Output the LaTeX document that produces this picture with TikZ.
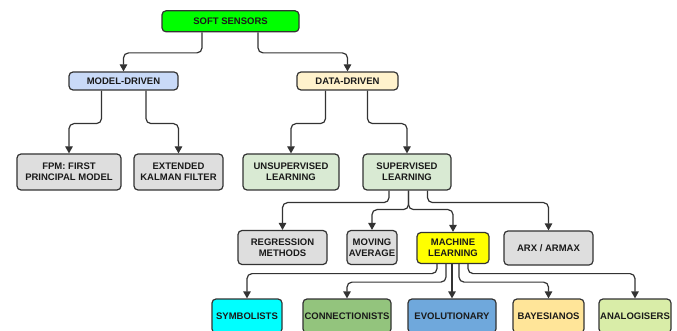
\documentclass[tikz,border=0pt]{standalone}
\usepackage{fontspec}
\setmainfont{Liberation Sans}
\usetikzlibrary{arrows.meta}
\definecolor{cSoft}{HTML}{00FF00}
\definecolor{cModel}{HTML}{C9DAF8}
\definecolor{cData}{HTML}{FFF2CC}
\definecolor{cGray}{HTML}{DEDEDE}
\definecolor{cLgreen}{HTML}{D9EAD3}
\definecolor{cYellow}{HTML}{FFFF00}
\definecolor{cCyan}{HTML}{00FFFF}
\definecolor{cConn}{HTML}{93C47D}
\definecolor{cEvo}{HTML}{6FA8DC}
\definecolor{cBay}{HTML}{FFE599}
\definecolor{cAna}{HTML}{D9EDA8}
\definecolor{cLine}{HTML}{333333}
\definecolor{cText}{HTML}{1A1A1A}
\tikzset{
  box/.style={draw=cLine, line width=1.2pt, rounded corners=4pt, inner sep=0pt,
    align=center, text=cText,
    font=\fontsize{9.5}{11}\selectfont\bfseries},
  conn/.style={draw=cLine, line width=1.2pt, rounded corners=5pt,
    -{Triangle[width=7.5pt,length=7pt]}}
}
\begin{document}
\begin{tikzpicture}[x=1pt,y=-1pt]
\useasboundingbox (0,0) rectangle (677,331);
\node[box, fill=cSoft, minimum width=137pt, minimum height=21pt] (soft) at (230.5,21.3) {SOFT SENSORS};
\node[box, fill=cModel, minimum width=109pt, minimum height=18pt] (md) at (123.5,81) {MODEL-DRIVEN};
\node[box, fill=cData, minimum width=101pt, minimum height=18pt] (dd) at (347.5,81) {DATA-DRIVEN};
\node[box, fill=cGray, minimum width=104pt, minimum height=36pt] (fpm) at (69,172) {FPM: FIRST\\PRINCIPAL MODEL};
\node[box, fill=cGray, minimum width=89pt, minimum height=36pt] (ekf) at (178.5,172) {EXTENDED\\KALMAN FILTER};
\node[box, fill=cLgreen, minimum width=96pt, minimum height=36pt] (unsup) at (291,172) {UNSUPERVISED\\LEARNING};
\node[box, fill=cLgreen, minimum width=88pt, minimum height=36pt] (sup) at (407,172) {SUPERVISED\\LEARNING};
\node[box, fill=cGray, minimum width=89pt, minimum height=34pt] (reg) at (282.5,247.5) {REGRESSION\\METHODS};
\node[box, fill=cGray, minimum width=50pt, minimum height=34pt] (mov) at (372,247.5) {MOVING\\AVERAGE};
\node[box, fill=cYellow, minimum width=72pt, minimum height=31pt] (ml) at (453,248) {MACHINE\\LEARNING};
\node[box, fill=cGray, minimum width=89pt, minimum height=34pt] (arx) at (548.5,248) {ARX / ARMAX};
\node[box, fill=cCyan, minimum width=70pt, minimum height=34pt] (sym) at (247,316) {SYMBOLISTS};
\node[box, fill=cConn, minimum width=88pt, minimum height=34pt] (con) at (347,316) {CONNECTIONISTS};
\node[box, fill=cEvo, minimum width=88pt, minimum height=34pt] (evo) at (452,316) {EVOLUTIONARY};
\node[box, fill=cBay, minimum width=71pt, minimum height=34pt] (bay) at (548.5,316) {BAYESIANOS};
\node[box, fill=cAna, minimum width=72pt, minimum height=34pt] (ana) at (635,316) {ANALOGISERS};
% connectors
\draw[conn] ([xshift=-28.5pt]soft.south) -- ++(0,20.5) -| (md.north);
\draw[conn] ([xshift=27.5pt]soft.south) -- ++(0,20.5) -| (dd.north);
\draw[conn] ([xshift=-22pt]md.south) -- ++(0,33) -| (fpm.north);
\draw[conn] ([xshift=22.5pt]md.south) -- ++(0,33) -| (ekf.north);
\draw[conn] ([xshift=-22pt]dd.south) -- ++(0,33) -| (unsup.north);
\draw[conn] ([xshift=20pt]dd.south) -- ++(0,33) -| (sup.north);
\draw[conn] ([xshift=-18pt]sup.south) -- ++(0,12) -| (reg.north);
\draw[conn] ([xshift=1.5pt]sup.south) -- ++(0,19) -| (mov.north);
\draw[conn] ([xshift=1.5pt]sup.south) -- ++(0,19) -| (ml.north);
\draw[conn] ([xshift=20.5pt]sup.south) -- ++(0,12) -| (arx.north);
\draw[conn] ([xshift=-16pt]ml.south) -- ++(0,9.5) -| (sym.north);
\draw[conn] ([xshift=-7pt]ml.south) -- ++(0,18) -| (con.north);
\draw[conn] (ml.south -| evo.north) -- (evo.north);
\draw[conn] ([xshift=6pt]ml.south) -- ++(0,18) -| (bay.north);
\draw[conn] ([xshift=15pt]ml.south) -- ++(0,9.5) -| (ana.north);
\end{tikzpicture}
\end{document}
